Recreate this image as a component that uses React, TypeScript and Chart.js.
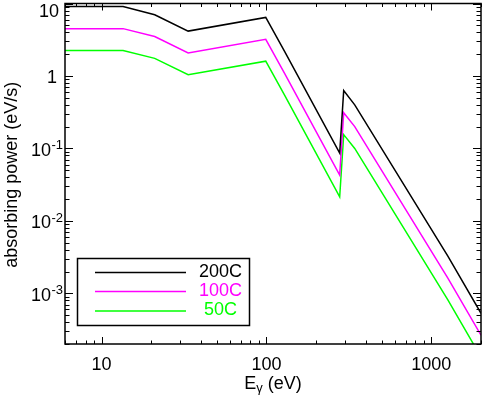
import React, { useEffect, useRef } from "react";
import { Chart, registerables } from "chart.js";

Chart.register(...registerables);

// Photon energy E_gamma (eV) at the curve vertices
const energies = [6, 13.5, 21, 33.5, 99, 129, 278, 294, 343, 1259, 2000];
// Absorbing power (eV/s) per temperature
const power200C = [9.1, 9.1, 7.0, 4.16, 6.42, 2.16, 0.0863, 0.628, 0.399, 3.26e-3, 5.3e-4];
const power100C = [4.5, 4.5, 3.5, 2.08, 3.2, 1.08, 0.043, 0.31, 0.2, 1.62e-3, 2.65e-4];
const power50C = [2.25, 2.25, 1.75, 1.04, 1.6, 0.54, 0.0214, 0.155, 0.1, 8.1e-4, 1.32e-4];

const seriesLabels = ["200C", "100C", "50C"];
const seriesColors = ["#000000", "#ff00ff", "#00ff00"];

const xMin = 6;
const xMax = 2000;
const yMin = 2e-4;
const yMax = 10;

const xMajorTicks = [10, 100, 1000];
const xTickLabels = ["10", "100", "1000"];
const yMajorTicks = [10, 1, 0.1, 0.01, 0.001];
const yTickBases = ["10", "1", "10", "10", "10"];
const yTickExponents = ["", "", "-1", "-2", "-3"];

const xTitleMain = "E";
const xTitleSub = "\u03b3";
const xTitleRest = " (eV)";
const yTitle = "absorbing power (eV/s)";

const FONT = "'Liberation Sans', Arial, Helvetica, sans-serif";

function minorTicks(min: number, max: number): number[] {
  const out: number[] = [];
  const lo = Math.floor(Math.log10(min));
  const hi = Math.ceil(Math.log10(max));
  for (let e = lo; e <= hi; e++) {
    for (let k = 2; k <= 9; k++) {
      const v = k * Math.pow(10, e);
      if (v >= min * 0.9999 && v <= max * 1.0001) out.push(v);
    }
  }
  return out;
}

const framePlugin = {
  id: "frameAndLabels",
  afterDraw(chart: any) {
    const ctx: CanvasRenderingContext2D = chart.ctx;
    const { left, right, top, bottom } = chart.chartArea;
    const xs = chart.scales.x;
    const ys = chart.scales.y;
    ctx.save();
    ctx.strokeStyle = "#000";
    ctx.fillStyle = "#000";

    // ticks (inward, on all four sides)
    ctx.lineWidth = 1;
    const xTick = (v: number, len: number) => {
      const px = Math.round(xs.getPixelForValue(v)) + 0.5;
      ctx.beginPath();
      ctx.moveTo(px, bottom);
      ctx.lineTo(px, bottom - len);
      ctx.moveTo(px, top);
      ctx.lineTo(px, top + len);
      ctx.stroke();
    };
    const yTick = (v: number, len: number) => {
      const py = Math.round(ys.getPixelForValue(v)) + 0.5;
      ctx.beginPath();
      ctx.moveTo(left, py);
      ctx.lineTo(left + len, py);
      ctx.moveTo(right, py);
      ctx.lineTo(right - len, py);
      ctx.stroke();
    };
    minorTicks(xMin, xMax).forEach((v) => xTick(v, 3.5));
    xMajorTicks.forEach((v) => xTick(v, 7));
    minorTicks(yMin, yMax).forEach((v) => yTick(v, 4.5));
    yMajorTicks.forEach((v) => yTick(v, 8));

    // frame
    ctx.lineWidth = 1.5;
    ctx.strokeRect(left, top, right - left, bottom - top);

    // x tick labels
    ctx.font = `18px ${FONT}`;
    ctx.textAlign = "center";
    ctx.textBaseline = "alphabetic";
    xMajorTicks.forEach((v, i) => {
      ctx.fillText(xTickLabels[i], xs.getPixelForValue(v), bottom + 25.5);
    });

    // y tick labels
    yMajorTicks.forEach((v, i) => {
      let py = ys.getPixelForValue(v);
      const base = yTickBases[i];
      const exp = yTickExponents[i];
      ctx.textBaseline = "alphabetic";
      if (exp) {
        ctx.font = `18px ${FONT}`;
        ctx.textAlign = "right";
        ctx.fillText(base, left - 14, py + 7.5);
        ctx.font = `13px ${FONT}`;
        ctx.textAlign = "left";
        ctx.fillText(exp, left - 13.5, py + 1);
      } else {
        ctx.font = `18px ${FONT}`;
        ctx.textAlign = "right";
        let baseline = py + 7;
        if (baseline < top + 13.5) baseline = top + 13.5;
        ctx.fillText(base, left - (base.length === 1 ? 8 : 6), baseline);
      }
    });

    // x title
    ctx.font = `18px ${FONT}`;
    const wMain = ctx.measureText(xTitleMain).width;
    const wRest = ctx.measureText(xTitleRest).width;
    ctx.font = `13px ${FONT}`;
    const wSub = ctx.measureText(xTitleSub).width;
    const total = wMain + wSub + wRest;
    const cx = (left + right) / 2;
    let tx = cx - total / 2;
    const baseY = 388.5;
    ctx.textAlign = "left";
    ctx.font = `18px ${FONT}`;
    ctx.fillText(xTitleMain, tx, baseY);
    tx += wMain;
    ctx.font = `13px ${FONT}`;
    ctx.fillText(xTitleSub, tx, baseY + 3.5);
    tx += wSub;
    ctx.font = `18px ${FONT}`;
    ctx.fillText(xTitleRest, tx, baseY);

    // y title
    ctx.save();
    ctx.translate(17, (top + bottom) / 2 + 1);
    ctx.rotate(-Math.PI / 2);
    ctx.textAlign = "center";
    ctx.textBaseline = "alphabetic";
    ctx.font = `18px ${FONT}`;
    ctx.fillText(yTitle, 0, 0);
    ctx.restore();

    // legend
    const boxL = 77.5, boxT = 258.5, boxR = 249.5, boxB = 325.5;
    ctx.fillStyle = "#fff";
    ctx.fillRect(boxL, boxT, boxR - boxL, boxB - boxT);
    ctx.lineWidth = 1.5;
    ctx.strokeStyle = "#000";
    ctx.strokeRect(boxL, boxT, boxR - boxL, boxB - boxT);
    const rowY = [272.5, 291.5, 311];
    chart.data.datasets.forEach((ds: any, i: number) => {
      ctx.strokeStyle = ds.borderColor;
      ctx.lineWidth = 1.5;
      ctx.beginPath();
      ctx.moveTo(95, rowY[i]);
      ctx.lineTo(186, rowY[i]);
      ctx.stroke();
      ctx.fillStyle = ds.borderColor;
      ctx.font = `18px ${FONT}`;
      ctx.textAlign = "center";
      ctx.textBaseline = "alphabetic";
      ctx.fillText(ds.label, 220.5, rowY[i] + 4.3);
    });

    ctx.restore();
  },
};

export default function App() {
  const ref = useRef<HTMLCanvasElement | null>(null);
  useEffect(() => {
    if (!ref.current) return;
    const series = [power200C, power100C, power50C];
    const chart = new Chart(ref.current, {
      type: "line",
      data: {
        datasets: series.map((vals, i) => ({
          label: seriesLabels[i],
          data: energies.map((e, j) => ({ x: e, y: vals[j] })),
          borderColor: seriesColors[i],
          backgroundColor: seriesColors[i],
          borderWidth: 1.5,
          pointRadius: 0,
          tension: 0,
          fill: false,
        })),
      },
      options: {
        responsive: false,
        animation: false,
        devicePixelRatio: 1,
        layout: { padding: { left: 65, top: 3.5, right: 1, bottom: 53 } },
        scales: {
          x: { type: "logarithmic", min: xMin, max: xMax, display: false },
          y: { type: "logarithmic", min: yMin, max: yMax, display: false },
        },
        plugins: { legend: { display: false }, tooltip: { enabled: false } },
        events: [],
      },
      plugins: [framePlugin],
    } as any);
    return () => chart.destroy();
  }, []);
  return (
    <div style={{ position: "absolute", left: 0, top: 0, width: 482, height: 397, background: "#fff" }}>
      <canvas ref={ref} width={482} height={397} style={{ display: "block" }} />
    </div>
  );
}
